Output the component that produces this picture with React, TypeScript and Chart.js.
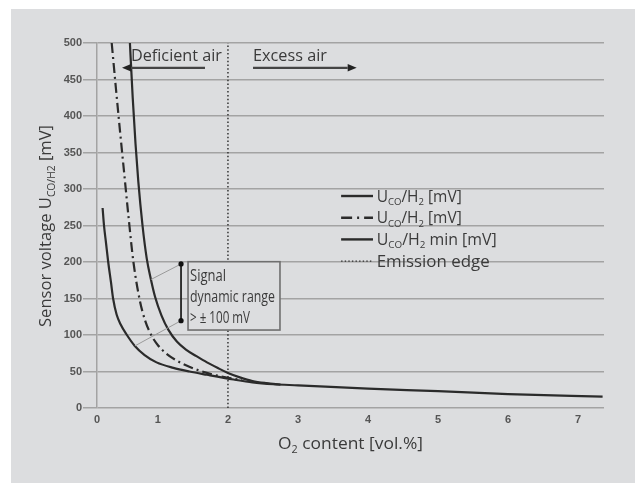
import React, { useEffect, useRef } from "react";
import { Chart, registerables } from "chart.js";

Chart.register(...registerables);

// ---------- data ----------
const upperX = [0.6, 0.64, 0.68, 0.72, 0.78, 0.84, 0.9, 0.96, 1.05, 1.15, 1.27, 1.4, 1.55, 1.7, 1.85, 2.0, 2.17, 2.35, 2.55, 2.75];
const upperY = [500, 425, 362, 310, 250, 205, 176, 152, 127, 107, 91, 80, 71, 62.5, 55, 48, 42, 37, 34, 32];

const dashDotX = [0.34, 0.4, 0.46, 0.52, 0.58, 0.65, 0.74, 0.82, 0.91, 1.0, 1.12, 1.25, 1.4, 1.6, 1.8, 2.0, 2.2];
const dashDotY = [500, 438, 378, 320, 262, 200, 148, 119, 99, 86, 74.5, 66, 58.5, 51, 45.5, 41.5, 38];

const minX = [0.21, 0.23, 0.26, 0.29, 0.33, 0.36, 0.41, 0.47, 0.55, 0.67, 0.81, 0.98, 1.22, 1.45, 1.7, 2.08, 2.35, 2.65, 3.0, 4.0, 5.0, 6.0, 7.35];
const minY = [274, 250, 225, 200, 172, 150, 128, 114, 101, 85, 72.5, 62.5, 55, 50, 45.5, 39, 35, 32.5, 31, 26.5, 23, 19, 15.5];

const edgeX = [2, 2];
const edgeY = [0, 500];

const yTickValues = [0, 50, 100, 150, 200, 250, 300, 350, 400, 450, 500];
const xTickValues = [0, 1, 2, 3, 4, 5, 6, 7];
const xTickLabels = ["0", "1", "2", "3", "4", "5", "6", "7"];

type Part = { t: string; sub?: boolean };
const uco: Part[] = [{ t: "U" }, { t: "CO", sub: true }, { t: "/H" }, { t: "2", sub: true }];
const legendLabels: Part[][] = [
  [...uco, { t: " [mV]" }],
  [...uco, { t: " [mV]" }],
  [...uco, { t: " min [mV]" }],
  [{ t: "Emission edge" }],
];
const xTitle: Part[] = [{ t: "O" }, { t: "2", sub: true }, { t: " content [vol.%]" }];
const yTitle: Part[] = [{ t: "Sensor voltage U" }, { t: "CO/H2", sub: true }, { t: " [mV]" }];
const boxLines = ["Signal", "dynamic range", "> \u00b1 100 mV"];

// ---------- layout constants ----------
const X_MIN = 0.13;
const X_MAX = 7.37;
const INK = "#2b2b2b";
const TEXT = "#3a3a3a";
const GRID = "#a3a3a3";
const BG = "#dcdddf";
const FAM = "'Open Sans', 'Noto Sans', sans-serif";

const toPts = (xs: number[], ys: number[]) => xs.map((x, i) => ({ x, y: ys[i] }));

function drawRich(
  ctx: CanvasRenderingContext2D,
  parts: Part[],
  x: number,
  y: number,
  size: number,
  targetW: number | null,
  align: "left" | "center"
) {
  const fontFor = (p: Part) => `${p.sub ? size * 0.62 : size}px ${FAM}`;
  let total = 0;
  const ws = parts.map((p) => {
    ctx.font = fontFor(p);
    const w = ctx.measureText(p.t).width;
    total += w;
    return w;
  });
  const sx = targetW ? targetW / total : 1;
  ctx.save();
  ctx.translate(x, y);
  ctx.scale(sx, 1);
  ctx.textBaseline = "alphabetic";
  ctx.textAlign = "left";
  let cx = align === "center" ? -total / 2 : 0;
  parts.forEach((p, i) => {
    ctx.font = fontFor(p);
    ctx.fillText(p.t, cx, p.sub ? size * 0.22 : 0);
    cx += ws[i];
  });
  ctx.restore();
}

function arrow(ctx: CanvasRenderingContext2D, x1: number, x2: number, y: number) {
  const dir = Math.sign(x2 - x1);
  const hl = 9;
  ctx.save();
  ctx.strokeStyle = "#444";
  ctx.fillStyle = "#222";
  ctx.lineWidth = 2.2;
  ctx.beginPath();
  ctx.moveTo(x1, y);
  ctx.lineTo(x2 - dir * hl, y);
  ctx.stroke();
  ctx.beginPath();
  ctx.moveTo(x2, y);
  ctx.lineTo(x2 - dir * hl, y - 3.8);
  ctx.lineTo(x2 - dir * hl, y + 3.8);
  ctx.closePath();
  ctx.fill();
  ctx.restore();
}

const overlay = {
  id: "overlay",
  afterDatasetsDraw(chart: any) {
    const ctx: CanvasRenderingContext2D = chart.ctx;
    const xs = chart.scales.x;
    const ys = chart.scales.y;
    const X = (v: number) => xs.getPixelForValue(v);
    const Y = (v: number) => ys.getPixelForValue(v);
    const area = chart.chartArea;

    ctx.save();
    ctx.fillStyle = TEXT;

    // region labels and arrows
    drawRich(ctx, [{ t: "Deficient air" }], X(0.615), Y(475), 16.5, 91, "left");
    arrow(ctx, X(1.672), X(0.487), Y(466));
    ctx.fillStyle = TEXT;
    drawRich(ctx, [{ t: "Excess air" }], X(2.358), Y(475), 16.5, 74, "left");
    arrow(ctx, X(2.358), X(3.838), Y(466));

    // pointer lines for dynamic range
    ctx.strokeStyle = "#9a9a9a";
    ctx.lineWidth = 1;
    ctx.beginPath();
    ctx.moveTo(X(1.33), Y(197.3));
    ctx.lineTo(X(0.9), Y(176));
    ctx.moveTo(X(1.33), Y(119.6));
    ctx.lineTo(X(0.67), Y(85));
    ctx.stroke();
    // vertical range bar
    ctx.strokeStyle = "#222";
    ctx.lineWidth = 1.8;
    ctx.beginPath();
    ctx.moveTo(X(1.33), Y(197.3));
    ctx.lineTo(X(1.33), Y(119.6));
    ctx.stroke();
    ctx.fillStyle = "#111";
    [197.3, 119.6].forEach((v) => {
      ctx.beginPath();
      ctx.arc(X(1.33), Y(v), 2.6, 0, Math.PI * 2);
      ctx.fill();
    });

    // annotation box
    const bx1 = X(1.43), bx2 = X(2.743), by1 = Y(200.4), by2 = Y(106.8);
    ctx.fillStyle = BG;
    ctx.fillRect(bx1, by1, bx2 - bx1, by2 - by1);
    ctx.strokeStyle = "#6f6f6f";
    ctx.lineWidth = 1.6;
    ctx.strokeRect(bx1, by1, bx2 - bx1, by2 - by1);
    ctx.fillStyle = TEXT;
    drawRich(ctx, [{ t: boxLines[0] }], X(1.458), Y(174.4), 15.5, 36, "left");
    drawRich(ctx, [{ t: boxLines[1] }], X(1.458), Y(145.6), 15.5, 85, "left");
    drawRich(ctx, [{ t: boxLines[2] }], X(1.458), Y(116.8), 15.5, 60, "left");

    // legend
    const lx1 = X(3.616), lx2 = X(4.071), tx = X(4.124);
    const row0 = Y(290.4);
    const step = 21.7;
    const widths = [85, 85, 120, 113];
    legendLabels.forEach((lab, i) => {
      const cy = row0 + i * step;
      ctx.save();
      ctx.strokeStyle = INK;
      if (i === 3) {
        ctx.lineWidth = 1.4;
        ctx.setLineDash([1.4, 2.2]);
      } else if (i === 1) {
        ctx.lineWidth = 2.4;
        ctx.setLineDash([11, 5, 2, 5]);
      } else {
        ctx.lineWidth = 2.4;
      }
      ctx.beginPath();
      ctx.moveTo(lx1, cy);
      ctx.lineTo(lx2, cy);
      ctx.stroke();
      ctx.restore();
      ctx.fillStyle = TEXT;
      drawRich(ctx, lab, tx, cy + 5.5, 15.5, widths[i], "left");
    });

    // axis titles
    ctx.fillStyle = TEXT;
    drawRich(ctx, xTitle, (area.left + area.right) / 2, 440, 17, 145, "center");
    ctx.save();
    ctx.translate(40, 217);
    ctx.rotate(-Math.PI / 2);
    drawRich(ctx, yTitle, 0, 0, 16.5, 202, "center");
    ctx.restore();

    ctx.restore();
  },
};

export default function App() {
  const ref = useRef<HTMLCanvasElement>(null);

  useEffect(() => {
    if (!ref.current) return;
    const curve = {
      borderColor: INK,
      borderWidth: 2.2,
      pointRadius: 0,
      fill: false,
      cubicInterpolationMode: "monotone" as const,
    };
    const chart = new Chart(ref.current, {
      type: "line",
      data: {
        datasets: [
          { label: "UCO/H2 [mV]", data: toPts(upperX, upperY), ...curve },
          { label: "UCO/H2 [mV]", data: toPts(dashDotX, dashDotY), ...curve, borderDash: [10, 4, 2, 4] },
          { label: "UCO/H2 min [mV]", data: toPts(minX, minY), ...curve },
          {
            label: "Emission edge",
            data: toPts(edgeX, edgeY),
            borderColor: "#333",
            borderWidth: 1.5,
            borderDash: [1.5, 2.3],
            pointRadius: 0,
            fill: false,
          },
        ],
      },
      options: {
        animation: false,
        responsive: false,
        layout: { padding: { left: 0, top: 34, right: 31, bottom: 0 } },
        plugins: { legend: { display: false }, tooltip: { enabled: false } },
        scales: {
          x: {
            type: "linear",
            min: X_MIN,
            max: X_MAX,
            grid: { display: false, drawTicks: false, tickLength: 0 },
            border: { display: false },
            afterBuildTicks: (axis: any) => {
              axis.ticks = xTickValues.map((v) => ({ value: Math.max(v, X_MIN) }));
            },
            afterFit: (axis: any) => {
              axis.height = 75;
            },
            ticks: {
              padding: 5,
              autoSkip: false,
              maxRotation: 0,
              color: "#555",
              font: { family: "'Liberation Sans', Arial, sans-serif", size: 11, weight: "bold" },
              callback: (_v: any, i: number) => xTickLabels[i],
            },
          },
          y: {
            type: "linear",
            min: 0,
            max: 500,
            grid: { color: GRID, lineWidth: 1.5, drawTicks: true, tickLength: 14 },
            border: { display: true, color: GRID, width: 1.5 },
            afterBuildTicks: (axis: any) => {
              axis.ticks = yTickValues.map((v) => ({ value: v }));
            },
            afterFit: (axis: any) => {
              axis.width = 86;
            },
            ticks: {
              padding: 1,
              color: "#555",
              font: { family: "'Liberation Sans', Arial, sans-serif", size: 11, weight: "bold" },
            },
          },
        },
      },
      plugins: [overlay],
    } as any);
    return () => chart.destroy();
  }, []);

  return (
    <div style={{ position: "absolute", left: 11, top: 9, width: 624, height: 474, background: BG }}>
      <canvas ref={ref} width={624} height={474} style={{ display: "block" }} />
    </div>
  );
}
